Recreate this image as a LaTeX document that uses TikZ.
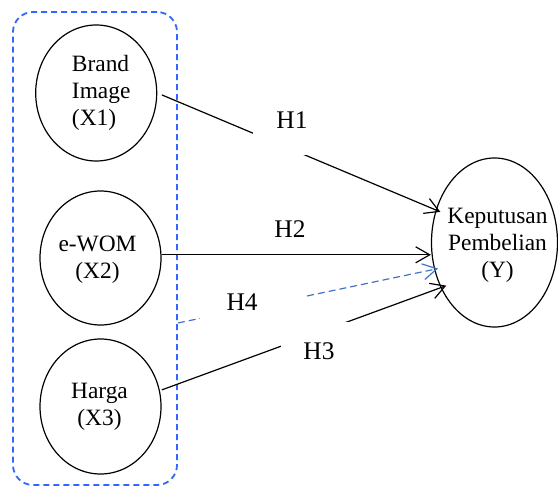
\documentclass[tikz,border=0pt]{standalone}
\usepackage{fontspec}
\setmainfont{Liberation Serif}
\usetikzlibrary{shapes.geometric,arrows.meta}
\definecolor{boxblue}{RGB}{51,102,255}
\definecolor{hblue}{RGB}{68,114,196}
\begin{document}
\begin{tikzpicture}[x=0.5pt,y=-0.5pt,
  ell/.style={ellipse,draw,line width=0.6pt,inner sep=0pt},
  etext/.style={font=\fontsize{11.7pt}{13.5pt}\selectfont,align=center,inner sep=0pt},
  hlab/.style={font=\fontsize{12.7pt}{15pt}\selectfont,fill=white,inner sep=0pt},
  arr/.style={draw,line width=0.6pt,-{Straight Barb[length=7pt,width=8pt]}},
  dasharr/.style={draw=hblue,line width=0.6pt,dash pattern=on 3.5pt off 2pt,-{Straight Barb[length=7pt,width=8pt]}},
]
\useasboundingbox (0,0) rectangle (558,487);
\node[draw=boxblue, line width=0.9pt, dash pattern=on 3pt off 2pt, rounded corners=10pt,
      minimum width=82pt, minimum height=236.5pt, inner sep=0pt] (grp) at (95,248.5) {};
\node[ell, minimum width=60.5pt, minimum height=68pt,
      label={[etext,align=left,xshift=2.5pt]center:Brand\\Image\\(X1)}] (e1) at (96.2,93) {};
\node[ell, minimum width=60.5pt, minimum height=67pt,
      label={[etext,xshift=-1.5pt,yshift=-1pt]center:e-WOM\\(X2)}] (e2) at (100.5,258) {};
\node[ell, minimum width=60.5pt, minimum height=67.5pt,
      label={[etext,xshift=-0.5pt]center:Harga\\(X3)}] (e3) at (100.5,406.5) {};
\node[ell, minimum width=63pt, minimum height=84.5pt,
      label={[etext,xshift=1.5pt,yshift=-1.5pt]center:Keputusan\\Pembelian\\(Y)}] (Y) at (494.5,242.5) {};
\coordinate (h4y) at (0,323);
\draw[arr, shorten <=2.5pt, shorten >=-2.5pt] (e1.east) -- (Y.151);
\draw[arr] (e2.3) -- (Y.west |- e2.3);
\draw[arr, shorten <=1pt, shorten >=-3pt] (e3.15) -- (Y.220);
\draw[dasharr, shorten >=-2pt] (grp.east |- h4y) -- (Y.204);
\node[hlab, inner xsep=11.75pt, inner ysep=13.5pt] (h1) at (292,120) {H1};
\node[hlab, inner sep=1pt] (h2) at (290,229) {H2};
\node[hlab, text width=26pt, align=left, inner xsep=13.25pt, inner ysep=8pt] (h4) at (252.5,302) {H4};
\node[hlab, inner xsep=11.25pt, inner ysep=10pt] (h3) at (319,351) {H3};
\end{tikzpicture}
\end{document}
